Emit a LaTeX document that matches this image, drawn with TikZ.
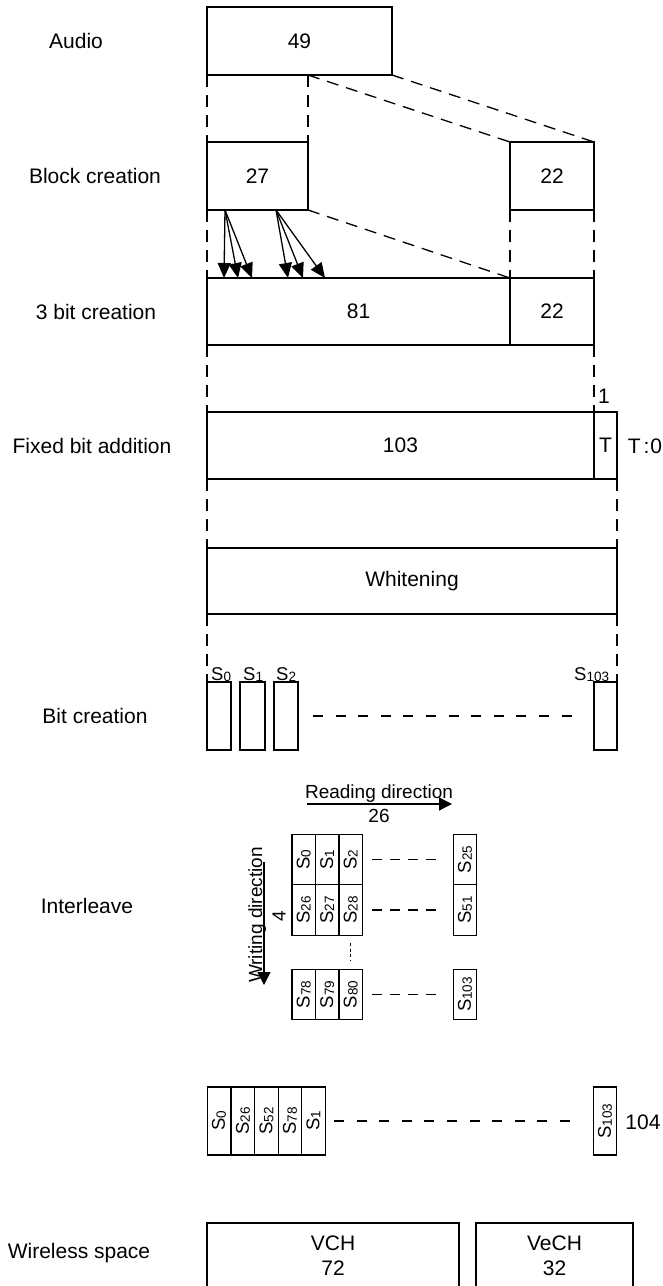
\documentclass[tikz,border=0pt]{standalone}
\usepackage{fontspec}
\setmainfont{Liberation Sans}
\usetikzlibrary{arrows.meta,calc}
\newcommand\fsz{\fontsize{21}{25}\selectfont}
\newcommand\fsr{\fontsize{19}{23}\selectfont}
\newcommand\fss{\fontsize{18.5}{22}\selectfont}
\newcommand\sbx[1]{\raisebox{-1pt}{\fontsize{13.5}{15}\selectfont #1}}
\begin{document}
\begin{tikzpicture}[x=1pt,y=-1pt,
 box/.style={draw, line width=1.3pt, inner sep=0pt, outer sep=0pt, anchor=north west, font=\fsz},
 cellv/.style={draw, line width=1.3pt, inner sep=0pt, outer sep=0pt, rotate=90, minimum width=50.5pt, minimum height=23.5pt, font=\fss},
 cellh/.style={draw, line width=1.3pt, inner sep=0pt, outer sep=0pt, rotate=90, minimum width=68pt, minimum height=23.6pt, font=\fss},
 dl/.style={line width=1.3pt, dash pattern=on 12pt off 8pt},
 dlh/.style={line width=1.3pt, dash pattern=on 10pt off 12.6pt},
 dli/.style={line width=1.3pt, dash pattern=on 10pt off 8pt},
 dlv/.style={line width=1.1pt, dash pattern=on 3pt off 2.5pt},
 arr/.style={line width=1.3pt, -{Triangle[length=15pt,width=13pt]}},
 arrb/.style={line width=1.3pt, -{Triangle[length=13pt,width=13pt]}},
 lbl/.style={font=\fsz, inner sep=0pt},
 slbl/.style={font=\fss, inner sep=0pt, anchor=base west},
]
\useasboundingbox (0,0) rectangle (663,1286);

% left labels
\node[lbl] (lAudio) at (76,41) {Audio};
\node[lbl] (lBlock) at (95,176) {Block creation};
\node[lbl] (lThree) at (96,311.5) {3 bit creation};
\node[lbl] (lFixed) at (92,445.5) {Fixed bit addition};
\node[lbl] (lBit) at (95,716) {Bit creation};
\node[lbl] (lInter) at (87,906) {Interleave};
\node[lbl] (lWire) at (79,1253) {Wireless space};

% boxes
\node[box, minimum width=185pt, minimum height=68pt] (a49) at (207,7) {49};
\node[box, minimum width=101pt, minimum height=68pt] (b27) at (207,142) {27};
\node[box, minimum width=84pt, minimum height=68pt] (b22) at (510,142) {22};
\node[box, minimum width=303pt, minimum height=67pt] (c81) at (207,278) {81};
\node[box, minimum width=84pt, minimum height=67pt] (c22) at (510,278) {22};
\node[box, minimum width=387pt, minimum height=67pt] (d103) at (207,412) {103};
\node[box, minimum width=23pt, minimum height=67pt] (dT) at (594,412) {T};
\node[box, minimum width=410pt, minimum height=66pt] (eW) at (207,548) {Whitening};
\node[box, minimum width=24pt, minimum height=68pt] (f0) at (207,682) {};
\node[box, minimum width=25pt, minimum height=68pt] (f1) at (240,682) {};
\node[box, minimum width=24pt, minimum height=68pt] (f2) at (274,682) {};
\node[box, minimum width=23pt, minimum height=68pt] (f103) at (594,682) {};

% dashed guides
\draw[dl] (a49.south west) -- (b27.north west);
\draw[dl] (a49.south west -| b27.north east) -- (b27.north east);
\draw[dl] (a49.south west -| b27.north east) -- (b22.north west);
\draw[dl] (a49.south east) -- (b22.north east);
\draw[dl] (b27.south west) -- (c81.north west);
\draw[dl] (b27.south east) -- (c81.north east);
\draw[dl] (b22.south west) -- (c22.north west);
\draw[dl] (b22.south east) -- (c22.north east);
\draw[dl] (c81.south west) -- (d103.north west);
\draw[dl] (c22.south east) -- (dT.north west);
\draw[dl] (d103.south west) -- (eW.north west);
\draw[dl] (dT.south east) -- (eW.north east);
\draw[dl] (eW.south west) -- (f0.north west);
\draw[dl] (eW.south east) -- (f103.north east);

% fan arrows
\draw[arr] ([xshift=18pt]b27.south west) -- ([xshift=17pt]c81.north west);
\draw[arr] ([xshift=18pt]b27.south west) -- ([xshift=31pt]c81.north west);
\draw[arr] ([xshift=18pt]b27.south west) -- ([xshift=45pt]c81.north west);
\draw[arr] ([xshift=69pt]b27.south west) -- ([xshift=81pt]c81.north west);
\draw[arr] ([xshift=69pt]b27.south west) -- ([xshift=96pt]c81.north west);
\draw[arr] ([xshift=69pt]b27.south west) -- ([xshift=118pt]c81.north west);

% fixed bit labels
\node[lbl] (one) at (604,396) {1};
\node[lbl] (t0) at (645,446) {T\hspace{3pt}:\hspace{1pt}0};

% bit creation labels
\node[slbl] (ls0) at (211,680) {S\sbx{0}};
\node[slbl] (ls1) at (243,680) {S\sbx{1}};
\node[slbl] (ls2) at (276,680) {S\sbx{2}};
\node[slbl] (ls103) at (574,680) {S\sbx{103}};
\draw[dlh] ([xshift=15pt]f2.east) -- ([xshift=-22pt]f103.west);

% interleave
\coordinate (ra) at (307,804);
\coordinate (rb) at (452,804);
\draw[arrb] (ra) -- (rb);
\node[font=\fsr, inner sep=0pt, anchor=base] (rd) at (379,798) {Reading direction};
\node[font=\fsr, inner sep=0pt] (n26) at (379,815.5) {26};
\coordinate (wa) at (264,862);
\coordinate (wb) at (264,985);
\draw[arrb] (wa) -- (wb);
\node[font=\fsr, inner sep=0pt, rotate=90, anchor=base] (wd) at (262,915) {Writing direction};
\node[font=\fsr, inner sep=0pt, rotate=90] (n4) at (279,916) {4};

\node[cellv] (i00) at (303.75,859.5) {S\sbx{0}};
\node[cellv] (i01) at (327.25,859.5) {S\sbx{1}};
\node[cellv] (i02) at (350.75,859.5) {S\sbx{2}};
\node[cellv] (i03) at (465,859.5) {S\sbx{25}};
\node[cellv] (i10) at (303.75,910) {S\sbx{26}};
\node[cellv] (i11) at (327.25,910) {S\sbx{27}};
\node[cellv] (i12) at (350.75,910) {S\sbx{28}};
\node[cellv] (i13) at (465,910) {S\sbx{51}};
\node[cellv] (i20) at (303.75,994.5) {S\sbx{78}};
\node[cellv] (i21) at (327.25,994.5) {S\sbx{79}};
\node[cellv] (i22) at (350.75,994.5) {S\sbx{80}};
\node[cellv] (i23) at (465,994.5) {S\sbx{103}};
\draw[dli] ([xshift=21.5pt]i02.center) -- ([xshift=-22pt]i03.center);
\draw[dli] ([xshift=21.5pt]i12.center) -- ([xshift=-22pt]i13.center);
\draw[dli] ([xshift=21.5pt]i22.center) -- ([xshift=-22pt]i23.center);
\draw[dlv] ([yshift=-33pt]i12.center) -- ([yshift=34.5pt]i22.center);

% output sequence
\node[cellh] (g0) at (219,1121) {S\sbx{0}};
\node[cellh] (g1) at (243,1121) {S\sbx{26}};
\node[cellh] (g2) at (266.5,1121) {S\sbx{52}};
\node[cellh] (g3) at (290,1121) {S\sbx{78}};
\node[cellh] (g4) at (313.5,1121) {S\sbx{1}};
\node[cellh] (g103) at (605,1121) {S\sbx{103}};
\draw[dlh] ([xshift=20.5pt]g4.center) -- ([xshift=-35pt]g103.center);
\node[lbl] (n104) at (643,1122) {104};

% wireless space
\node[box, minimum width=252pt, minimum height=65pt, align=center] (vch) at (207,1223) {VCH\\72};
\node[box, minimum width=157pt, minimum height=65pt, align=center] (vech) at (476,1223) {VeCH\\32};
\end{tikzpicture}
\end{document}
